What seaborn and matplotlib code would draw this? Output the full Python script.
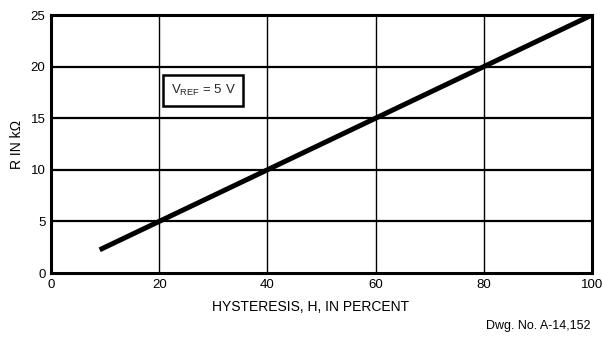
import matplotlib
matplotlib.use("Agg")
import matplotlib.pyplot as plt
import seaborn as sns
import pandas as pd

# Resistor value versus hysteresis at VREF = 5 V
hysteresis = [9, 100]
resistance = [2.25, 25]
x_ticks = [0, 20, 40, 60, 80, 100]
y_ticks = [0, 5, 10, 15, 20, 25]

sns.set_theme(style="white")
plt.rcParams["font.family"] = ["Liberation Sans", "DejaVu Sans"]

df = pd.DataFrame({"H": hysteresis, "R": resistance})

fig = plt.figure(figsize=(6.02, 3.41), dpi=100)
ax = fig.add_axes([51 / 602, 1 - 273 / 341, 541 / 602, 258 / 341])

# grid: thin verticals, heavier horizontals
for xv in x_ticks[1:-1]:
    ax.axvline(xv, color="black", lw=1.0, zorder=1)
for yv in y_ticks[1:-1]:
    ax.axhline(yv, color="black", lw=1.6, zorder=1)

sns.lineplot(data=df, x="H", y="R", ax=ax, color="black", lw=3.6,
             solid_capstyle="butt", zorder=3)

ax.set_xlim(0, 100)
ax.set_ylim(0, 25)
ax.set_xticks(x_ticks)
ax.set_yticks(y_ticks)
ax.tick_params(axis="both", length=0, labelsize=9.5, colors="black", pad=4)
for s in ax.spines.values():
    s.set_linewidth(2.2)
    s.set_color("black")

ax.set_xlabel("HYSTERESIS, H, IN PERCENT", fontsize=10, color="black")
ax.xaxis.set_label_coords(0.48, -0.105)
ax.set_ylabel("R IN k\u03a9", fontsize=10, color="black")
ax.yaxis.set_label_coords(-0.05, 0.5)

ax.text(22.1, 17.7, r"V$_{\mathregular{REF}}$ = 5 V", fontsize=9.5, ha="left",
        va="center", zorder=4,
        bbox=dict(boxstyle="square,pad=0.6", fc="white", ec="black", lw=1.8))

fig.text(590 / 602, 1 - 326 / 341, "Dwg. No. A-14,152", fontsize=9,
         ha="right", va="center", color="black")

fig.savefig("out.png", dpi=100, facecolor="white")
